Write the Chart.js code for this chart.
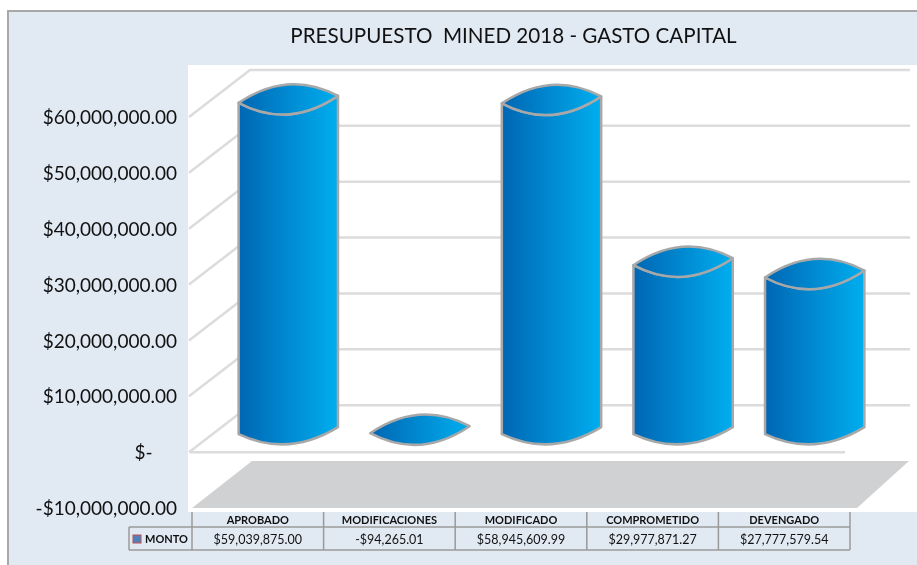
<!DOCTYPE html>
<html>
<head>
<meta charset="utf-8">
<script src="https://cdn.jsdelivr.net/npm/chart.js@4"></script>
<style>
  html, body { margin: 0; padding: 0; background: #fff; }
  #wrap { width: 917px; height: 565px; }
</style>
</head>
<body>
<div id="wrap"><canvas id="chart"></canvas></div>
<script>
const titleText = 'PRESUPUESTO  MINED 2018 - GASTO CAPITAL';
const seriesName = 'MONTO';
const categories = ['APROBADO', 'MODIFICACIONES', 'MODIFICADO', 'COMPROMETIDO', 'DEVENGADO'];
const monto = [59039875.00, -94265.01, 58945609.99, 29977871.27, 27777579.54];
const montoLabels = ['$59,039,875.00', '-$94,265.01', '$58,945,609.99', '$29,977,871.27', '$27,777,579.54'];
const yTickLabels = {
    '60000000': '$60,000,000.00',
    '50000000': '$50,000,000.00',
    '40000000': '$40,000,000.00',
    '30000000': '$30,000,000.00',
    '20000000': '$20,000,000.00',
    '10000000': '$10,000,000.00',
    '0': '$-     ',
    '-10000000': '-$10,000,000.00',
};

const FONT = 'Lato, sans-serif';
// 3D look: how far the back wall sits from the front edge
const DEPTH_X = 61;
const DEPTH_Y = 47;
const LINE_GREY = '#dcdcdc';
const EDGE_GREY = '#a8a8a8';

/** Bar drawn as a cylinder standing halfway into the 3D box */
class CylinderElement extends Chart.BarElement {
    draw(ctx) {
        const {x, y, base, width} = this.getProps(['x', 'y', 'base', 'width']);
        const x0 = x - width / 2 + DEPTH_X / 2;
        const x1 = x + width / 2 + DEPTH_X / 2;
        const top = y - 23;
        const bottom = base - DEPTH_Y / 2 + 2;
        const tilt = 3.5;
        const bulge = 30;
        const mid = (x0 + x1) / 2;

        const grad = ctx.createLinearGradient(x0, 0, x1, 0);
        grad.addColorStop(0, '#0066b3');
        grad.addColorStop(1, '#00aeef');

        ctx.save();
        ctx.fillStyle = grad;
        ctx.strokeStyle = EDGE_GREY;
        ctx.lineWidth = 2.5;
        ctx.lineJoin = 'round';

        if (bottom - top > 3) {
            ctx.beginPath();
            ctx.moveTo(x0, top + tilt);
            ctx.lineTo(x0, bottom + tilt);
            ctx.quadraticCurveTo(mid, bottom + bulge * 0.9, x1, bottom - tilt);
            ctx.lineTo(x1, top - tilt);
            ctx.quadraticCurveTo(mid, top + bulge, x0, top + tilt);
            ctx.closePath();
            ctx.fill();
            ctx.stroke();
        }

        ctx.beginPath();
        ctx.moveTo(x0, top + tilt);
        ctx.quadraticCurveTo(mid, top - bulge, x1, top - tilt);
        ctx.quadraticCurveTo(mid, top + bulge, x0, top + tilt);
        ctx.closePath();
        ctx.fill();
        ctx.stroke();
        ctx.restore();
    }
}
CylinderElement.id = 'cylinder';
CylinderElement.defaults = Chart.BarElement.defaults;

class CylinderController extends Chart.BarController {}
CylinderController.id = 'cylinderBar';
CylinderController.defaults = {...Chart.BarController.defaults, dataElementType: 'cylinder'};

Chart.register(CylinderElement, CylinderController);

// Panel behind everything, back wall grid and grey floor
const pluginBackdrop = {
    id: 'backdrop',
    beforeDatasetsDraw(chart) {
        const {ctx, scales: {y}} = chart;
        const floorFront = y.getPixelForValue(-10000000);
        const zero = y.getPixelForValue(0);

        ctx.save();
        // grey floor
        ctx.fillStyle = '#d0d1d3';
        ctx.beginPath();
        ctx.moveTo(192, floorFront);
        ctx.lineTo(252, floorFront - DEPTH_Y);
        ctx.lineTo(909, floorFront - DEPTH_Y);
        ctx.lineTo(857, floorFront);
        ctx.closePath();
        ctx.fill();

        // gridlines on the back wall, and the depth lines running to them
        ctx.strokeStyle = LINE_GREY;
        ctx.lineWidth = 2.5;
        y.ticks.forEach((tick) => {
            if (tick.value < 0) return;
            const py = y.getPixelForValue(tick.value);
            ctx.beginPath();
            ctx.moveTo(189, py);
            ctx.lineTo(189 + DEPTH_X, py - DEPTH_Y);
            ctx.lineTo(910, py - DEPTH_Y);
            ctx.stroke();
        });
        // front edge of the zero plane
        ctx.beginPath();
        ctx.moveTo(190, zero);
        ctx.lineTo(845, zero);
        ctx.stroke();
        ctx.restore();
    },
    beforeDraw(chart) {
        const {ctx} = chart;
        ctx.save();
        ctx.fillStyle = '#fff';
        ctx.fillRect(0, 0, chart.width, chart.height);
        ctx.fillStyle = '#e1e9f3';
        ctx.fillRect(8, 11, chart.width - 8, chart.height - 11);
        ctx.strokeStyle = EDGE_GREY;
        ctx.lineWidth = 2;
        ctx.beginPath();
        ctx.moveTo(8, chart.height);
        ctx.lineTo(8, 11);
        ctx.lineTo(chart.width, 11);
        ctx.stroke();
        ctx.fillStyle = '#fff';
        ctx.fillRect(188, 65, chart.width - 188, 447);
        ctx.restore();
    },
    afterDraw(chart) {
        const {ctx, scales: {x}} = chart;
        const step = x.getPixelForValue(1) - x.getPixelForValue(0);
        const edges = categories.map((c, i) => x.getPixelForValue(i) - step / 2);
        edges.push(x.right);
        const rowTop = 512;
        const rowMid = 527;
        const rowBottom = 550;
        const legendLeft = 129;

        ctx.save();
        // title
        ctx.fillStyle = '#111';
        ctx.textAlign = 'center';
        ctx.textBaseline = 'middle';
        ctx.font = '20.6px ' + FONT;
        ctx.fillText(titleText, 513.5, 36);

        // data table
        ctx.strokeStyle = '#9a9a9a';
        ctx.lineWidth = 1.5;
        ctx.beginPath();
        edges.forEach((ex) => {
            ctx.moveTo(ex, rowTop);
            ctx.lineTo(ex, rowBottom);
        });
        ctx.moveTo(legendLeft, rowMid);
        ctx.lineTo(legendLeft, rowBottom);
        ctx.moveTo(legendLeft, rowMid);
        ctx.lineTo(x.right, rowMid);
        ctx.moveTo(legendLeft, rowBottom);
        ctx.lineTo(x.right, rowBottom);
        ctx.stroke();

        ctx.fillStyle = '#111';
        ctx.font = '12.5px ' + FONT;
        montoLabels.forEach((label, i) => {
            ctx.fillText(label, x.getPixelForValue(i), 539.5);
        });

        // legend key
        ctx.fillStyle = '#4f81bd';
        ctx.strokeStyle = '#c0504d';
        ctx.lineWidth = 1;
        ctx.fillRect(133, 535, 8, 8);
        ctx.strokeRect(133, 535, 8, 8);
        ctx.fillStyle = '#111';
        ctx.textAlign = 'left';
        ctx.font = 'bold 11px ' + FONT;
        ctx.fillText(seriesName, 145, 539.5);
        ctx.restore();
    },
};

new Chart(document.getElementById('chart'), {
    type: 'cylinderBar',
    data: {
        labels: categories,
        datasets: [{
            label: seriesName,
            data: monto,
            clip: false,
            barPercentage: 0.755,
            categoryPercentage: 1,
        }],
    },
    options: {
        responsive: true,
        maintainAspectRatio: false,
        animation: false,
        layout: {padding: {top: 117, right: 67, left: 0, bottom: 0}},
        scales: {
            x: {
                grid: {display: false, tickLength: 0},
                border: {display: false},
                ticks: {
                    color: '#111',
                    font: {family: FONT, size: 11, weight: 'bold'},
                    padding: 6,
                    maxRotation: 0,
                    autoSkip: false,
                },
                afterFit: (scale) => { scale.height = 57; },
            },
            y: {
                min: -10000000,
                max: 60000000,
                grid: {display: false, tickLength: 0},
                border: {display: false},
                ticks: {
                    stepSize: 10000000,
                    color: '#111',
                    font: {family: FONT, size: 19},
                    padding: 15,
                    labelOffset: 1,
                    callback: (value) => yTickLabels[value],
                },
                afterFit: (scale) => { scale.width = 192; },
            },
        },
        plugins: {
            legend: {display: false},
            title: {display: false},
            tooltip: {enabled: false},
        },
    },
    plugins: [pluginBackdrop],
});
</script>
</body>
</html>
